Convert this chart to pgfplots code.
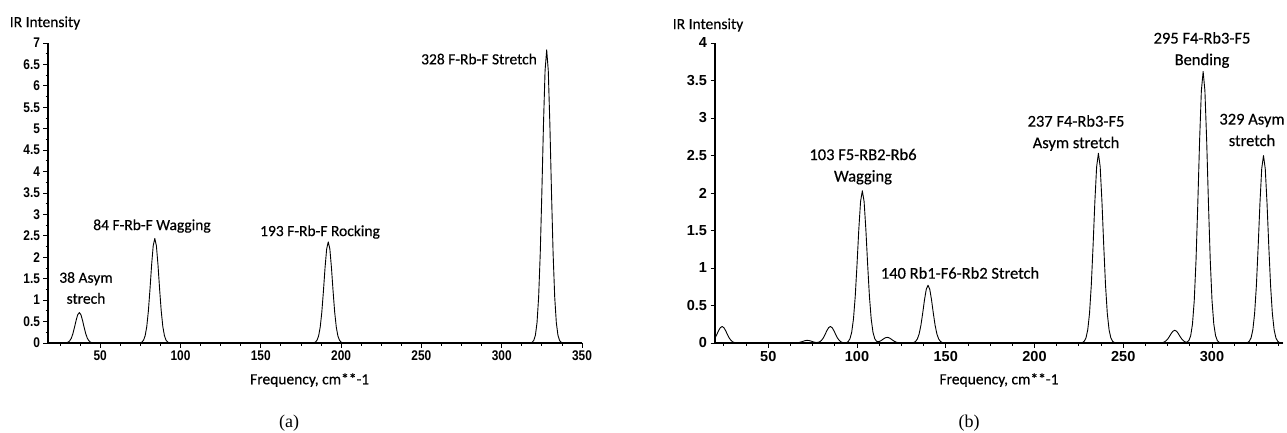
\documentclass[border=0pt]{standalone}
\usepackage{fontspec}
\setmainfont{Carlito}[FakeBold=0.4]
\newfontfamily\tickfontL[FakeStretch=0.85]{Liberation Sans Bold}
\newfontfamily\tickfontR{Liberation Sans Bold}
\newfontfamily\capfont{Liberation Serif}
\usepackage{pgfplots}
\pgfplotsset{compat=1.18}

\pgfplotsset{
  irspec/.style={
    scale only axis, height=300pt,
    axis lines=left, axis line style={-, line width=1.2pt},
    tick align=outside, xtick pos=left, ytick pos=left,
    major tick length=4.5pt, minor tick length=2.5pt,
    every tick/.style={black, line width=0.8pt},
    /pgf/number format/assume math mode=true,
    ymin=0,
    xlabel={Frequency, cm**-1},
    xlabel style={font=\fontsize{15.5}{18}\selectfont, anchor=center,
                  at={(axis description cs:0.49,0)}, yshift=-37pt},
  },
  spec/.style={black, line width=0.9pt, line join=round, no markers},
}

\begin{document}
\begin{tikzpicture}
\path[use as bounding box] (0,0) rectangle (1287pt,432pt);

% (a)
\begin{axis}[irspec,
  at={(48pt,89pt)}, anchor=south west, width=534pt,
  xmin=17.5, xmax=350, ymax=7,
  xtick={50,100,...,350}, minor xtick={25,37.5,...,337.5},
  ytick={0,0.5,...,7}, minor ytick={0.25,0.75,...,6.75},
  tick label style={font=\tickfontL\fontsize{14}{14}\selectfont},
]
\addplot[spec] coordinates {
(17.5,0) (27,0)
(28,0.002) (29,0.006) (30,0.019) (31,0.050) (32,0.111) (33,0.217) (34,0.365) (35,0.528) (36,0.660)
(37,0.71)
(38,0.660) (39,0.528) (40,0.365) (41,0.217) (42,0.111) (43,0.050) (44,0.019) (45,0.006) (46,0.002)
(47,0) (74,0)
(75,0.006) (76,0.022) (77,0.066) (78,0.171) (79,0.383) (80,0.747) (81,1.254) (82,1.815) (83,2.267)
(84,2.44)
(85,2.267) (86,1.815) (87,1.254) (88,0.747) (89,0.383) (90,0.171) (91,0.066) (92,0.022) (93,0.006)
(94,0) (182,0)
(183,0.006) (184,0.021) (185,0.064) (186,0.165) (187,0.371) (188,0.722) (189,1.213) (190,1.756) (191,2.192)
(192,2.36)
(193,2.192) (194,1.756) (195,1.213) (196,0.722) (197,0.371) (198,0.165) (199,0.064) (200,0.021) (201,0.006)
(202,0) (317,0)
(318,0.004) (319,0.017) (320,0.062) (321,0.185) (322,0.479) (323,1.074) (324,2.093) (325,3.516) (326,5.089) (327,6.354)
(328,6.84)
(329,6.354) (330,5.089) (331,3.516) (332,2.093) (333,1.074) (334,0.479) (335,0.185) (336,0.062) (337,0.017) (338,0.004)
(339,0) (350,0)
};
\end{axis}

% (b)
\begin{axis}[irspec,
  at={(715pt,89pt)}, anchor=south west, width=568pt,
  xmin=20, xmax=340, ymax=4,
  y axis line style={line width=2pt},
  xtick={50,100,...,300}, minor xtick={25,37.5,...,337.5},
  ytick={0,0.5,...,4},
  tick label style={font=\tickfontR\fontsize{14.5}{14.5}\selectfont},
  xlabel style={at={(axis description cs:0.5,0)}},
]
\addplot[spec] coordinates {
(20,0.067) (21,0.113) (22,0.164) (23,0.204) (24,0.22) (25,0.204) (26,0.164) (27,0.113) (28,0.067)
(29,0.035) (30,0.015) (31,0.006) (32,0.002) (33,0) (64,0)
(65,0.001) (66,0.002) (67,0.005) (68,0.011) (69,0.018) (70,0.026) (71,0.033) (72,0.035)
(73,0.033) (74,0.026) (75,0.018) (76,0.011) (77,0.007) (78,0.008) (79,0.016) (80,0.035)
(81,0.067) (82,0.113) (83,0.164) (84,0.204) (85,0.22) (86,0.204) (87,0.164) (88,0.113) (89,0.067)
(90,0.035) (91,0.015) (92,0.006) (93,0.002) (94,0.005) (95,0.018) (96,0.055) (97,0.142) (98,0.319)
(99,0.621) (100,1.043) (101,1.510) (102,1.886) (103,2.03) (104,1.886) (105,1.510) (106,1.043)
(107,0.621) (108,0.319) (109,0.143) (110,0.057) (111,0.023) (112,0.017) (113,0.024) (114,0.039)
(115,0.056) (116,0.070) (117,0.075) (118,0.070) (119,0.056) (120,0.039) (121,0.023) (122,0.012)
(123,0.005) (124,0.002) (125,0) (130,0)
(131,0.002) (132,0.007) (133,0.021) (134,0.054) (135,0.121) (136,0.236) (137,0.396) (138,0.573) (139,0.715)
(140,0.77)
(141,0.715) (142,0.573) (143,0.396) (144,0.236) (145,0.121) (146,0.054) (147,0.021) (148,0.007) (149,0.002)
(150,0) (226,0)
(227,0.006) (228,0.023) (229,0.068) (230,0.177) (231,0.397) (232,0.774) (233,1.300) (234,1.882) (235,2.350)
(236,2.53)
(237,2.350) (238,1.882) (239,1.300) (240,0.774) (241,0.397) (242,0.177) (243,0.068) (244,0.023) (245,0.006)
(246,0) (270,0)
(271,0.002) (272,0.005) (273,0.012) (274,0.027) (275,0.052) (276,0.087) (277,0.126) (278,0.158)
(279,0.17) (280,0.158) (281,0.126) (282,0.087) (283,0.052) (284,0.027) (285,0.014) (286,0.014)
(287,0.034) (288,0.098) (289,0.253) (290,0.568) (291,1.108) (292,1.861) (293,2.693) (294,3.363)
(295,3.62)
(296,3.363) (297,2.693) (298,1.861) (299,1.108) (300,0.568) (301,0.253) (302,0.098) (303,0.032) (304,0.009)
(305,0) (319,0)
(320,0.006) (321,0.023) (322,0.068) (323,0.175) (324,0.393) (325,0.765) (326,1.285) (327,1.860) (328,2.323)
(329,2.50)
(330,2.323) (331,1.860) (332,1.285) (333,0.765) (334,0.393) (335,0.175) (336,0.068) (337,0.023) (338,0.006)
(339,0) (340,0)
};
\end{axis}

% axis titles
\node[font=\fontsize{15.5}{18}\selectfont, inner sep=0] at (45pt,409pt) {IR Intensity};
\node[font=\fontsize{15.5}{18}\selectfont, inner sep=0] at (708pt,407pt) {IR Intensity};

% peak annotations (a)
\begin{scope}[every node/.style={font=\fontsize{15.5}{21}\selectfont, align=center, inner sep=0}]
\node at (86pt,144pt) {38 Asym\\strech};
\node at (152pt,206pt) {84 F-Rb-F Wagging};
\node at (320pt,200pt) {193 F-Rb-F Rocking};
\node at (479pt,373pt) {328 F-Rb-F Stretch};
\end{scope}

% peak annotations (b)
\begin{scope}[every node/.style={font=\fontsize{16.5}{21.5}\selectfont, align=center, inner sep=0}]
\node at (863pt,265.5pt) {103 F5-RB2-Rb6\\Wagging};
\node at (960pt,159pt) {140 Rb1-F6-Rb2 Stretch};
\node at (1076pt,299pt) {237 F4-Rb3-F5\\Asym stretch};
\node at (1202pt,382pt) {295 F4-Rb3-F5\\Bending};
\node at (1252pt,302pt) {329 Asym\\stretch};
\end{scope}

% panel captions
\node[font=\capfont\fontsize{18}{20}\selectfont, inner sep=0] at (289pt,9pt) {(a)};
\node[font=\capfont\fontsize{18}{20}\selectfont, inner sep=0] at (969pt,9pt) {(b)};
\end{tikzpicture}
\end{document}
